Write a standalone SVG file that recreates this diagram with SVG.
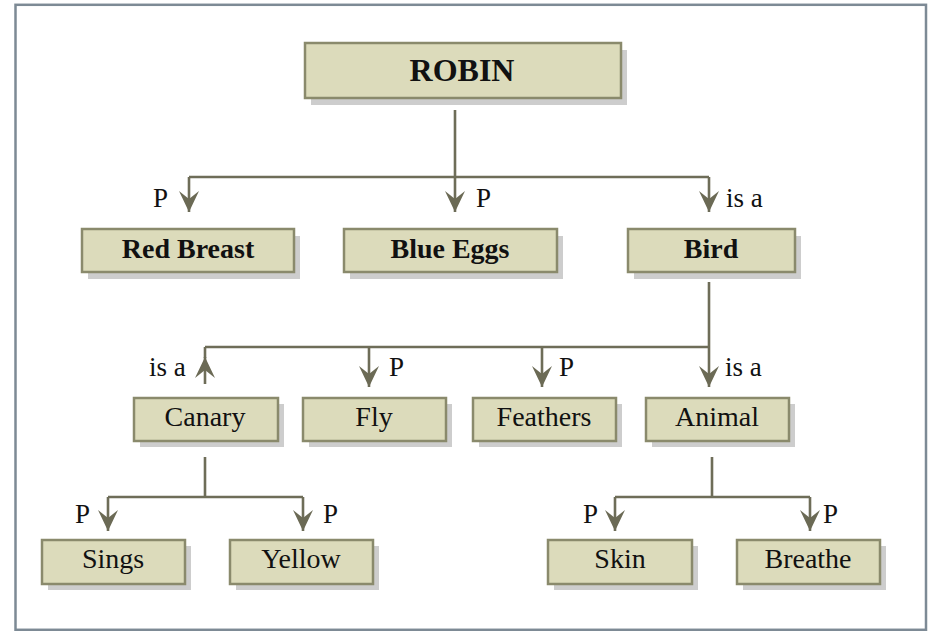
<svg xmlns="http://www.w3.org/2000/svg" width="932" height="631" viewBox="0 0 932 631">
<style>
.box{fill:#dcdbbb;stroke:#8a8a6c;stroke-width:2.5}
.sh{fill:#cdcdcd}
.t{font-family:"Liberation Serif","Times New Roman",serif;font-size:28px;fill:#111;text-anchor:middle}
.b{font-weight:bold}
.lbl{font-family:"Liberation Serif","Times New Roman",serif;font-size:27px;fill:#111}
.ln{fill:none;stroke:#6e6d58;stroke-width:2.6}
</style>
<defs>
<marker id="ah" markerUnits="userSpaceOnUse" viewBox="-24 -12 26 24" markerWidth="26" markerHeight="24" refX="0" refY="0" orient="auto" overflow="visible">
<path d="M0,0 L-21,-10 L-13,0 L-21,10 Z" fill="#6b6a55"/>
</marker>
</defs>
<rect x="15.5" y="4.8" width="910.5" height="625" fill="#fff" stroke="#7d8a95" stroke-width="2.5"/>
<g id="connectors">
<path class="ln" d="M455,110 V177 M189,177 H709"/>
<path class="ln" d="M189,177 V212" marker-end="url(#ah)"/>
<path class="ln" d="M455,177 V212" marker-end="url(#ah)"/>
<path class="ln" d="M709,177 V212" marker-end="url(#ah)"/>
<path class="ln" d="M709,282 V347 M205,347 H709"/>
<path class="ln" d="M205,384 V357" marker-end="url(#ah)"/>
<path class="ln" d="M205,347 V358"/>
<path class="ln" d="M369,347 V387" marker-end="url(#ah)"/>
<path class="ln" d="M542,347 V387" marker-end="url(#ah)"/>
<path class="ln" d="M709,347 V387" marker-end="url(#ah)"/>
<path class="ln" d="M205,457 V497 M108,497 H303"/>
<path class="ln" d="M108,497 V531" marker-end="url(#ah)"/>
<path class="ln" d="M303,497 V531" marker-end="url(#ah)"/>
<path class="ln" d="M712,457 V497 M615,497 H810"/>
<path class="ln" d="M615,497 V531" marker-end="url(#ah)"/>
<path class="ln" d="M810,497 V531" marker-end="url(#ah)"/>
</g>
<g id="labels">
<text class="lbl" x="153" y="207">P</text>
<text class="lbl" x="476" y="207">P</text>
<text class="lbl" x="726" y="207">is a</text>
<text class="lbl" x="149" y="376">is a</text>
<text class="lbl" x="389" y="376">P</text>
<text class="lbl" x="559" y="376">P</text>
<text class="lbl" x="725" y="376">is a</text>
<text class="lbl" x="75" y="523">P</text>
<text class="lbl" x="323" y="523">P</text>
<text class="lbl" x="583" y="523">P</text>
<text class="lbl" x="823" y="523">P</text>
</g>
<g id="robin"><rect class="sh" x="311" y="50" width="316" height="55"/><rect class="box" x="305" y="43" width="316" height="55"/><text class="t b" x="462" y="81" style="font-size:32px">ROBIN</text></g>
<g id="red-breast"><rect class="sh" x="88" y="236" width="212" height="43"/><rect class="box" x="82" y="229" width="212" height="43"/><text class="t b" x="188" y="258">Red Breast</text></g>
<g id="blue-eggs"><rect class="sh" x="350" y="236" width="213" height="43"/><rect class="box" x="344" y="229" width="213" height="43"/><text class="t b" x="450" y="258">Blue Eggs</text></g>
<g id="bird"><rect class="sh" x="634" y="236" width="167" height="43"/><rect class="box" x="628" y="229" width="167" height="43"/><text class="t b" x="711" y="258">Bird</text></g>
<g id="canary"><rect class="sh" x="140" y="404" width="144" height="43"/><rect class="box" x="134" y="398" width="144" height="43"/><text class="t" x="205" y="426">Canary</text></g>
<g id="fly"><rect class="sh" x="309" y="404" width="143" height="43"/><rect class="box" x="303" y="398" width="143" height="43"/><text class="t" x="374" y="426">Fly</text></g>
<g id="feathers"><rect class="sh" x="479" y="404" width="143" height="43"/><rect class="box" x="473" y="398" width="143" height="43"/><text class="t" x="544" y="426">Feathers</text></g>
<g id="animal"><rect class="sh" x="652" y="404" width="143" height="43"/><rect class="box" x="646" y="398" width="143" height="43"/><text class="t" x="717" y="426">Animal</text></g>
<g id="sings"><rect class="sh" x="48" y="546" width="143" height="44"/><rect class="box" x="42" y="540" width="143" height="44"/><text class="t" x="113" y="568">Sings</text></g>
<g id="yellow"><rect class="sh" x="236" y="546" width="143" height="44"/><rect class="box" x="230" y="540" width="143" height="44"/><text class="t" x="301" y="568">Yellow</text></g>
<g id="skin"><rect class="sh" x="554" y="546" width="144" height="44"/><rect class="box" x="548" y="540" width="144" height="44"/><text class="t" x="620" y="568">Skin</text></g>
<g id="breathe"><rect class="sh" x="743" y="546" width="143" height="44"/><rect class="box" x="737" y="540" width="143" height="44"/><text class="t" x="808" y="568">Breathe</text></g>
</svg>
